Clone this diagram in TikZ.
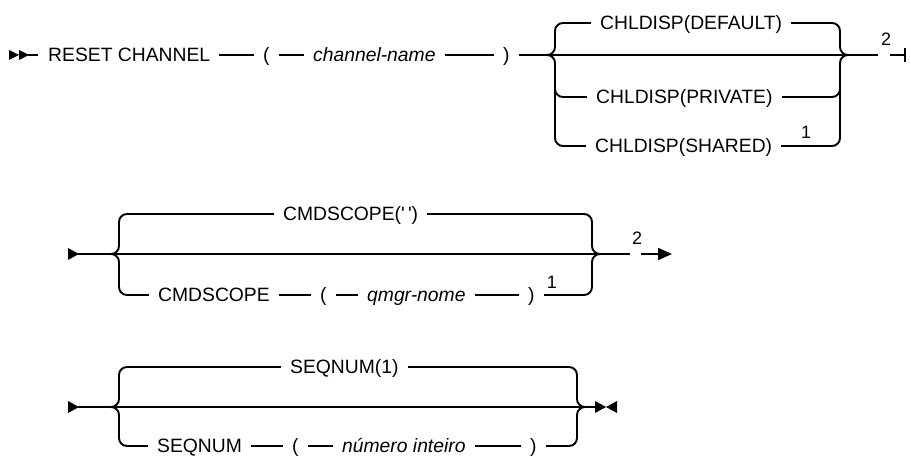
\documentclass[tikz,border=0pt]{standalone}
\usepackage{fontspec}
\newfontfamily\rrfont{Liberation Sans}
\usetikzlibrary{arrows.meta}
\newcommand\rrbraceL[4]{%
 \draw[rr] ({#1+8},#2) to[out=180,in=90] (#1,{#2-8}) -- (#1,{#3+8}) to[out=-90,in=0] ({#1-8},#3);
 \draw[rr] ({#1-8},#3) to[out=0,in=90] (#1,{#3-8}) -- (#1,{#4+8}) to[out=-90,in=180] ({#1+8},#4);}
\newcommand\rrbraceR[4]{%
 \draw[rr] ({#1-8},#2) to[out=0,in=90] (#1,{#2-8}) -- (#1,{#3+8}) to[out=-90,in=180] ({#1+8},#3);
 \draw[rr] ({#1+8},#3) to[out=180,in=90] (#1,{#3-8}) -- (#1,{#4+8}) to[out=-90,in=0] ({#1-8},#4);}
\begin{document}
\begin{tikzpicture}[x=1pt,y=1pt,
 rr/.style={line width=1.9pt},
 kw/.style={inner xsep=9pt, inner ysep=0pt, anchor=west, text height=13.8pt, text depth=0pt, font=\rrfont\fontsize{19.3}{19.3}\selectfont},
 var/.style={kw, font=\rrfont\itshape\fontsize{19.3}{19.3}\selectfont},
 note/.style={inner sep=0pt, font=\rrfont\fontsize{18}{18}\selectfont},
 tri/.style={fill=black}]
\useasboundingbox (0,0) rectangle (911,-457);

% ---------- Row 1 ----------
\fill[tri] (9,-50) -- (19,-55) -- (9,-60) -- cycle;
\fill[tri] (19,-50) -- (29,-55) -- (19,-60) -- cycle;
\coordinate (s1) at (28,-55);
\coordinate (st1) at (38,-55);
\draw[rr] (s1) -- (st1);
\node[kw] (reset) at (39,-55) {RESET CHANNEL};
\node[kw] (lp1) at (254,-55) {(};
\node[var] (chn) at (304,-55) {channel-name};
\node[kw] (rp1) at (494,-55) {)};
\coordinate (e1a) at (878,-55);
\coordinate (e1b) at (890,-55);
\coordinate (e1end) at (906,-55);
\draw[rr] (reset) -- (lp1) -- (chn) -- (rp1) -- (e1a);
\draw[rr,-{Bar[width=14pt]}] (e1b) -- (e1end);
\node[note] (n2a) at (886,-39) {2};

\node[kw] (def) at (591,-23) {CHLDISP(DEFAULT)};
\node[kw] (pri) at (587,-97) {CHLDISP(PRIVATE)};
\node[kw] (sha) at (586,-146) {CHLDISP(SHARED)};
\node[note] (n1a) at (806,-132) {1};
\coordinate (b1tl) at (563,-23);  \coordinate (b1tr) at (832,-23);
\coordinate (b1pl) at (563,-97);  \coordinate (b1pr) at (832,-97);
\coordinate (b1sl) at (563,-146); \coordinate (b1sr) at (832,-146);
\draw[rr] (b1tl) -- (def) -- (b1tr);
\draw[rr] (b1pl) -- (pri) -- (b1pr);
\draw[rr] (b1sl) -- (sha) -- (b1sr);
\rrbraceL{555}{-23}{-55}{-146}
\rrbraceR{840}{-23}{-55}{-146}
\draw[rr] (555,-89) to[out=-90,in=180] (563,-97);
\draw[rr] (832,-97) to[out=0,in=-90] (840,-89);

% ---------- Row 2 ----------
\fill[tri] (68,-248) -- (79,-254) -- (68,-260) -- cycle;
\coordinate (s2) at (78,-254);
\coordinate (e2a) at (630,-254);
\coordinate (e2b) at (641,-254);
\coordinate (e2end) at (672,-254);
\draw[rr] (s2) -- (e2a);
\draw[rr,-{Triangle[length=14pt,width=12pt]}] (e2b) -- (e2end);
\node[note] (n2b) at (637,-238) {2};

\node[kw] (cmd1) at (274,-214) {CMDSCOPE('\,')};
\coordinate (b2tl) at (127,-214); \coordinate (b2tr) at (584,-214);
\draw[rr] (b2tl) -- (cmd1) -- (b2tr);

\node[kw] (cmd2) at (149,-295) {CMDSCOPE};
\node[kw] (lp2) at (311,-295) {(};
\node[var] (qm) at (358,-295) {qmgr-nome};
\node[kw] (rp2) at (519,-295) {)};
\node[note] (n1b) at (552,-282) {1};
\coordinate (b2bl) at (127,-295); \coordinate (b2br) at (584,-295);
\draw[rr] (b2bl) -- (cmd2) -- (lp2) -- (qm) -- (rp2) -- (b2br);
\rrbraceL{119}{-214}{-254}{-295}
\rrbraceR{592}{-214}{-254}{-295}

% ---------- Row 3 ----------
\fill[tri] (68,-401) -- (79,-407) -- (68,-413) -- cycle;
\coordinate (s3) at (78,-407);
\coordinate (e3) at (596,-407);
\draw[rr] (s3) -- (e3);
\fill[tri] (595,-401) -- (606,-407) -- (595,-413) -- cycle;
\fill[tri] (617,-401) -- (606,-407) -- (617,-413) -- cycle;

\node[kw] (seq1) at (281,-367) {SEQNUM(1)};
\coordinate (b3tl) at (127,-367); \coordinate (b3tr) at (569,-367);
\draw[rr] (b3tl) -- (seq1) -- (b3tr);

\node[kw] (seq2) at (148,-446) {SEQNUM};
\node[kw] (lp3) at (283,-446) {(};
\node[var] (num) at (333,-446) {número inteiro};
\node[kw] (rp3) at (521,-446) {)};
\coordinate (b3bl) at (127,-446); \coordinate (b3br) at (569,-446);
\draw[rr] (b3bl) -- (seq2) -- (lp3) -- (num) -- (rp3) -- (b3br);
\rrbraceL{119}{-367}{-407}{-446}
\rrbraceR{577}{-367}{-407}{-446}
\end{tikzpicture}
\end{document}
